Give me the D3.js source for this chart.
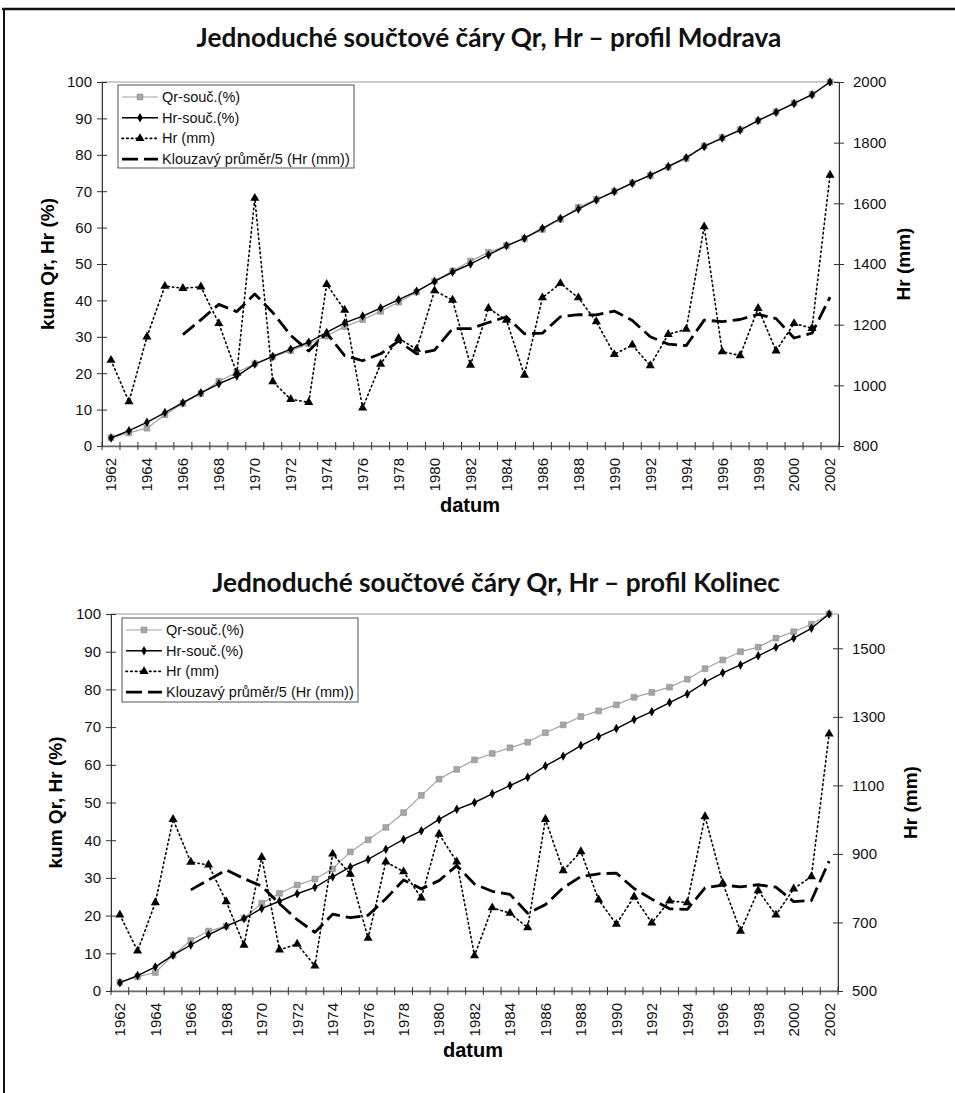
<!DOCTYPE html>
<html>
<head>
<meta charset="utf-8">
<script src="https://cdn.jsdelivr.net/npm/d3@7"></script>
<style>
  body { margin: 0; background: #fff; }
  svg { display: block; font-family: 'Liberation Sans', Arial, sans-serif; }
</style>
</head>
<body>
<svg id="fig" width="955" height="1093"></svg>
<script>
// ---- categories and tick labels ----
const years = [1962, 1963, 1964, 1965, 1966, 1967, 1968, 1969, 1970, 1971,
               1972, 1973, 1974, 1975, 1976, 1977, 1978, 1979, 1980, 1981,
               1982, 1983, 1984, 1985, 1986, 1987, 1988, 1989, 1990, 1991,
               1992, 1993, 1994, 1995, 1996, 1997, 1998, 1999, 2000, 2001, 2002];
const yearLabels = [1962, 1964, 1966, 1968, 1970, 1972, 1974, 1976, 1978, 1980, 1982,
                    1984, 1986, 1988, 1990, 1992, 1994, 1996, 1998, 2000, 2002];
const pctTicks = [0, 10, 20, 30, 40, 50, 60, 70, 80, 90, 100];
const modravaMmTicks = [800, 1000, 1200, 1400, 1600, 1800, 2000];
const kolinecMmTicks = [500, 700, 900, 1100, 1300, 1500];

// ---- profil Modrava ----
const modravaQrCum = [2.3, 3.6, 4.9, 8.6, 11.7, 14.4, 17.8, 20.2, 22.6, 24.5,
                      26.2, 28.1, 30.2, 32.8, 34.7, 37.0, 39.5, 42.3, 45.3, 48.1,
                      50.8, 53.2, 55.1, 57.0, 59.5, 62.3, 65.6, 67.8, 70.0, 72.3,
                      74.3, 76.6, 79.0, 82.4, 84.7, 86.9, 89.4, 91.8, 94.2, 96.6, 100];
const modravaHrCum = [2.2, 4.2, 6.5, 9.2, 11.9, 14.6, 17.1, 19.2, 22.5, 24.6,
                      26.6, 28.5, 31.2, 33.8, 35.7, 37.9, 40.2, 42.5, 45.2, 47.8,
                      50.0, 52.5, 55.0, 57.1, 59.8, 62.5, 65.1, 67.6, 69.9, 72.2,
                      74.4, 76.8, 79.2, 82.3, 84.6, 86.8, 89.4, 91.7, 94.1, 96.5, 100];
const modravaHr = [1083, 946, 1160, 1327, 1320, 1325, 1204, 1040, 1617, 1012,
                   954, 944, 1333, 1248, 926, 1070, 1155, 1119, 1312, 1281,
                   1067, 1254, 1215, 1034, 1289, 1336, 1289, 1210, 1102, 1133,
                   1065, 1168, 1185, 1523, 1111, 1098, 1254, 1114, 1204, 1188, 1693];
const modravaMA = [null, null, null, null, 1167, 1216, 1267, 1243, 1301, 1240,
                   1165, 1113, 1172, 1098, 1081, 1104, 1146, 1104, 1116, 1187,
                   1187, 1207, 1226, 1170, 1172, 1226, 1233, 1232, 1245, 1214,
                   1160, 1136, 1131, 1215, 1210, 1217, 1234, 1220, 1156, 1172, 1291];

// ---- profil Kolinec ----
const kolinecQrCum = [2.3, 3.8, 4.9, 9.5, 13.4, 15.9, 17.2, 19.3, 23.3, 25.9,
                      28.1, 29.7, 32.4, 36.9, 40.1, 43.4, 47.3, 51.9, 56.2, 58.8,
                      61.3, 63.0, 64.5, 66.0, 68.5, 70.6, 72.8, 74.3, 75.9, 77.9,
                      79.2, 80.6, 82.7, 85.5, 87.8, 90.0, 91.2, 93.6, 95.3, 97.3, 100];
const kolinecHrCum = [2.2, 4.1, 6.4, 9.5, 12.2, 14.9, 17.2, 19.2, 21.9, 23.8,
                      25.8, 27.5, 30.3, 32.9, 34.9, 37.6, 40.2, 42.5, 45.5, 48.2,
                      50.0, 52.3, 54.5, 56.7, 59.7, 62.3, 65.1, 67.5, 69.6, 72.0,
                      74.1, 76.5, 78.8, 81.9, 84.4, 86.5, 88.9, 91.2, 93.6, 96.2, 100];
const kolinecHr = [722, 617, 758, 1001, 876, 868, 761, 634, 890, 620,
                   637, 573, 900, 841, 654, 877, 848, 772, 958, 877,
                   603, 743, 727, 685, 1001, 851, 907, 766, 695, 775,
                   699, 763, 758, 1009, 815, 675, 793, 722, 798, 834, 1250];
const kolinecMA = [null, null, null, null, 795, 824, 853, 828, 806, 755,
                   708, 671, 724, 714, 721, 769, 824, 798, 822, 866,
                   812, 791, 782, 727, 752, 801, 834, 842, 844, 799,
                   768, 740, 738, 801, 809, 804, 810, 803, 761, 764, 879];

const legendLabels = ["Qr-souč.(%)", "Hr-souč.(%)", "Hr (mm)", "Klouzavý průměr/5 (Hr (mm))"];

const SANS = "'Liberation Sans', Arial, sans-serif";
const svg = d3.select("#fig");

// page frame
svg.append("line").attr("x1", 2).attr("x2", 955).attr("y1", 9).attr("y2", 9)
  .attr("stroke", "#111").attr("stroke-width", 2.5);
svg.append("line").attr("x1", 4).attr("x2", 4).attr("y1", 8).attr("y2", 1093)
  .attr("stroke", "#111").attr("stroke-width", 2);

const styles = {
  qr:  { stroke: "#a3a3a3", width: 1.2, dash: null },
  hrc: { stroke: "#000", width: 1.4, dash: null },
  hr:  { stroke: "#000", width: 1.6, dash: "1.5,3.2" },
  ma:  { stroke: "#000", width: 2.8, dash: "15,6" }
};

function marker(sel, kind) {
  if (kind === "qr") {
    sel.attr("d", d3.symbol(d3.symbolSquare, 34)()).attr("fill", "#a6a6a6").attr("stroke", "#8f8f8f").attr("stroke-width", 0.6);
  } else if (kind === "hrc") {
    sel.attr("d", d3.symbol(d3.symbolDiamond, 26)()).attr("fill", "#000");
  } else if (kind === "hr") {
    sel.attr("d", d3.symbol(d3.symbolTriangle, 36)()).attr("fill", "#000");
  }
}

function drawChart(cfg) {
  const g = svg.append("g");
  const x = d3.scaleBand().domain(years).range([cfg.left, cfg.right]).padding(0);
  const cx = yr => x(yr) + x.bandwidth() / 2;
  const yP = d3.scaleLinear().domain([0, 100]).range([cfg.bottom, cfg.top]);
  const yM = d3.scaleLinear().domain(cfg.mmDomain).range([cfg.bottom, cfg.top]);

  // plot area border
  g.append("rect")
    .attr("x", cfg.left).attr("y", cfg.top)
    .attr("width", cfg.right - cfg.left).attr("height", cfg.bottom - cfg.top)
    .attr("fill", "none").attr("stroke", "#9a9a9a").attr("stroke-width", 1);

  // left axis (percent)
  const gl = g.append("g").attr("transform", `translate(${cfg.left},0)`)
    .call(d3.axisLeft(yP).tickValues(pctTicks).tickFormat(d3.format("d"))
      .tickSize(5).tickSizeOuter(0).tickPadding(5));
  gl.selectAll(".tick line").attr("x1", 5);

  // right axis (mm)
  const gr = g.append("g").attr("transform", `translate(${cfg.right},0)`)
    .call(d3.axisRight(yM).tickValues(cfg.mmTicks).tickFormat(d3.format("d"))
      .tickSize(5).tickSizeOuter(0).tickPadding(9));
  gr.selectAll(".tick line").attr("x1", -5);

  // bottom axis with year labels on every second category
  const gb = g.append("g").attr("transform", `translate(0,${cfg.bottom})`)
    .call(d3.axisBottom(x).tickValues(yearLabels).tickSize(0).tickSizeOuter(0));
  gb.selectAll(".tick text")
    .attr("transform", "rotate(-90)")
    .attr("x", -12).attr("y", 0).attr("dy", "0.36em")
    .style("text-anchor", "end");
  // category boundary ticks crossing the axis
  const bounds = years.map(yr => x(yr)).concat([x(years[years.length - 1]) + x.bandwidth()]);
  g.append("g").selectAll("line").data(bounds).join("line")
    .attr("x1", d => d).attr("x2", d => d)
    .attr("y1", cfg.bottom - 4).attr("y2", cfg.bottom + 4)
    .attr("stroke", "#333").attr("stroke-width", 1);

  [gl, gr, gb].forEach(a => {
    a.select(".domain").attr("stroke", "#333").attr("stroke-width", 1);
    a.selectAll(".tick line").attr("stroke", "#333");
    a.selectAll("text").attr("font-family", SANS).attr("font-size", 15).attr("fill", "#111");
  });
  gb.select(".domain").attr("stroke", "#666").attr("stroke-width", 1.6);

  // series
  const series = [
    { key: "qr",  vals: cfg.qr,    y: yP, markers: true },
    { key: "hrc", vals: cfg.hrCum, y: yP, markers: true },
    { key: "hr",  vals: cfg.hr,    y: yM, markers: true },
    { key: "ma",  vals: cfg.ma,    y: yM, markers: false }
  ];
  series.forEach(s => {
    const pts = years.map((yr, i) => ({ yr, v: s.vals[i] }));
    const line = d3.line().defined(d => d.v != null).x(d => cx(d.yr)).y(d => s.y(d.v));
    const st = styles[s.key];
    g.append("path").datum(pts)
      .attr("d", line).attr("fill", "none")
      .attr("stroke", st.stroke).attr("stroke-width", st.width)
      .attr("stroke-dasharray", st.dash)
      .attr("stroke-linecap", s.key === "hr" ? "round" : "butt")
      .attr("stroke-linejoin", "round");
    if (s.markers) {
      g.append("g").selectAll("path").data(pts.filter(d => d.v != null)).join("path")
        .attr("transform", d => `translate(${cx(d.yr)},${s.y(d.v)})`)
        .call(sel => marker(sel, s.key));
    }
  });

  // legend
  const L = cfg.legend;
  const lg = g.append("g");
  lg.append("rect").attr("x", L.x).attr("y", L.y).attr("width", L.w).attr("height", L.h)
    .attr("fill", "#fff").attr("stroke", "#555").attr("stroke-width", 1);
  ["qr", "hrc", "hr", "ma"].forEach((k, i) => {
    const ry = L.y + 12 + i * 20.7;
    const st = styles[k];
    lg.append("line").attr("x1", L.x + 4).attr("x2", L.x + 40).attr("y1", ry).attr("y2", ry)
      .attr("stroke", st.stroke).attr("stroke-width", st.width)
      .attr("stroke-dasharray", k === "ma" ? "16,6" : st.dash)
      .attr("stroke-linecap", k === "hr" ? "round" : "butt");
    if (k !== "ma") {
      lg.append("path").attr("transform", `translate(${L.x + 22},${ry})`).call(sel => marker(sel, k));
    }
    lg.append("text").attr("x", L.x + 44).attr("y", ry).attr("dy", "0.35em")
      .attr("font-family", SANS).attr("font-size", 14.5).attr("fill", "#111")
      .text(legendLabels[i]);
  });

  // axis titles
  const mid = (cfg.top + cfg.bottom) / 2;
  g.append("text").attr("transform", `translate(${cfg.yTitleX},${mid}) rotate(-90)`)
    .attr("text-anchor", "middle").attr("dy", "0.35em")
    .attr("font-family", SANS).attr("font-weight", "bold").attr("font-size", 19)
    .text("kum Qr, Hr (%)");
  g.append("text").attr("transform", `translate(${cfg.mmTitleX},${mid}) rotate(-90)`)
    .attr("text-anchor", "middle").attr("dy", "0.35em")
    .attr("font-family", SANS).attr("font-weight", "bold").attr("font-size", 19)
    .text("Hr (mm)");
  g.append("text").attr("x", cfg.datumX).attr("y", cfg.datumY)
    .attr("text-anchor", "middle")
    .attr("font-family", SANS).attr("font-weight", "bold").attr("font-size", 20)
    .text("datum");

  // chart title, sized to its line width
  const t = g.append("text").attr("x", cfg.titleX).attr("y", cfg.titleY)
    .attr("text-anchor", "middle")
    .attr("font-family", "Lato, 'Noto Sans', sans-serif").attr("font-weight", 700)
    .attr("font-size", 24).attr("fill", "#111")
    .text(cfg.title);
  const w = t.node().getComputedTextLength();
  t.attr("font-size", 24 * cfg.titleWidth / w);
}

drawChart({
  title: "Jednoduché součtové čáry Qr, Hr – profil Modrava",
  titleX: 489, titleY: 47, titleWidth: 585,
  left: 102, right: 839, top: 82, bottom: 446,
  mmDomain: [800, 2000], mmTicks: modravaMmTicks,
  qr: modravaQrCum, hrCum: modravaHrCum, hr: modravaHr, ma: modravaMA,
  yTitleX: 47, mmTitleX: 903, datumX: 470, datumY: 512,
  legend: { x: 118, y: 85, w: 236, h: 83 }
});

drawChart({
  title: "Jednoduché součtové čáry Qr, Hr – profil Kolinec",
  titleX: 496, titleY: 592, titleWidth: 568,
  left: 111, right: 838, top: 614, bottom: 991,
  mmDomain: [500, 1600], mmTicks: kolinecMmTicks,
  qr: kolinecQrCum, hrCum: kolinecHrCum, hr: kolinecHr, ma: kolinecMA,
  yTitleX: 55, mmTitleX: 910, datumX: 473, datumY: 1057,
  legend: { x: 122, y: 618, w: 236, h: 84 }
});
</script>
</body>
</html>
